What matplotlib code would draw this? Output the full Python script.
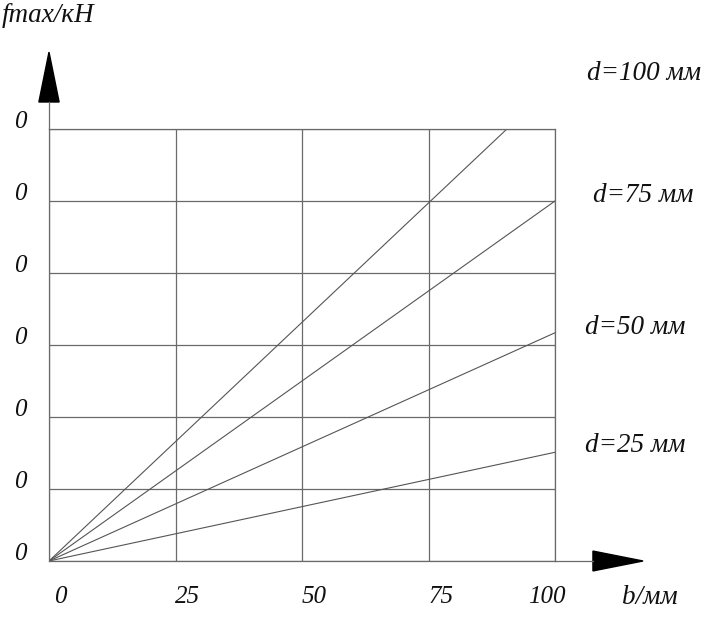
import matplotlib
matplotlib.use("Agg")
import matplotlib.pyplot as plt
from matplotlib import transforms
from matplotlib.patches import Polygon

# ---- data ----
b_values = [0, 100]
series_labels = ["d=25 мм", "d=50 мм", "d=75 мм", "d=100 мм"]
f_d25 = [0, 1.51]
f_d50 = [0, 3.17]
f_d75 = [0, 5.0]
f_d100 = [0, 6.63]
x_ticks = [0, 25, 50, 75, 100]
x_tick_labels = ["0", "25", "50", "75", "100"]
y_ticks = [0, 1, 2, 3, 4, 5, 6]
y_tick_labels = ["0", "0", "0", "0", "0", "0", "0"]
x_label = "b/мм"
y_label = "fmax/кН"

FONT = "Liberation Serif"
grid_col = "#6a6a6a"
line_col = "#555555"

fig = plt.figure(figsize=(7.10, 6.28), dpi=100)
W, H = 710, 628
ax = fig.add_axes([49 / W, (H - 561) / H, 506 / W, 432 / H])
ax.set_xlim(0, 100)
ax.set_ylim(0, 6)
ax.set_xticks(x_ticks)
ax.set_yticks(y_ticks)
ax.tick_params(length=0, labelbottom=False, labelleft=False)
ax.grid(True, color=grid_col, lw=0.9)
for s in ax.spines.values():
    s.set_color(grid_col)
    s.set_linewidth(0.9)

for f in (f_d25, f_d50, f_d75, f_d100):
    ax.plot(b_values, f, color=line_col, lw=0.8)

# arrows (axes fraction)
ax.plot([0, 0], [1.0, 1.0625], transform=ax.transAxes, color=grid_col, lw=0.9, clip_on=False)
ax.add_patch(Polygon([[-0.02, 1.0625], [0.02, 1.0625], [0.0, 1.178]], closed=True,
                     transform=ax.transAxes, color="black", clip_on=False))
ax.plot([1.0, 1.075], [0, 0], transform=ax.transAxes, color=grid_col, lw=0.9, clip_on=False)
ax.add_patch(Polygon([[1.075, -0.023], [1.075, 0.023], [1.174, 0.0]], closed=True,
                     transform=ax.transAxes, color="black", clip_on=False))

tick_font = dict(family=FONT, style="italic", fontsize=18, color="#111111")
lab_font = dict(family=FONT, style="italic", fontsize=19.5, color="#111111")

# y tick labels
ytrans = transforms.blended_transform_factory(ax.transAxes, ax.transData) + \
    transforms.ScaledTranslation(0, 7 / 100, fig.dpi_scale_trans)
for yv, lab in zip(y_ticks, y_tick_labels):
    ax.text(-0.057, yv, lab, transform=ytrans, ha="center", va="center", **tick_font)

# x tick labels
x_offsets_px = [11, 12, 12, 13, -8]
xtrans = transforms.blended_transform_factory(ax.transData, ax.transAxes)
for xv, lab, off in zip(x_ticks, x_tick_labels, x_offsets_px):
    t = xtrans + transforms.ScaledTranslation(off / 100, 0, fig.dpi_scale_trans)
    ax.text(xv, -0.083, lab, transform=t, ha="center", va="center", **tick_font)

# axis labels
fig.text(650 / W, 1 - 597 / H, x_label, ha="center", va="center", **lab_font)
fig.text(2 / W, 1 - 15 / H, y_label, ha="left", va="center", **lab_font)

# series labels
label_pos = [(585, 445), (585, 327), (593, 195), (587, 73)]
for lab, (px, py) in zip(series_labels, label_pos):
    fig.text(px / W, 1 - py / H, lab, ha="left", va="center", **lab_font)

fig.savefig("out.png", dpi=100)
